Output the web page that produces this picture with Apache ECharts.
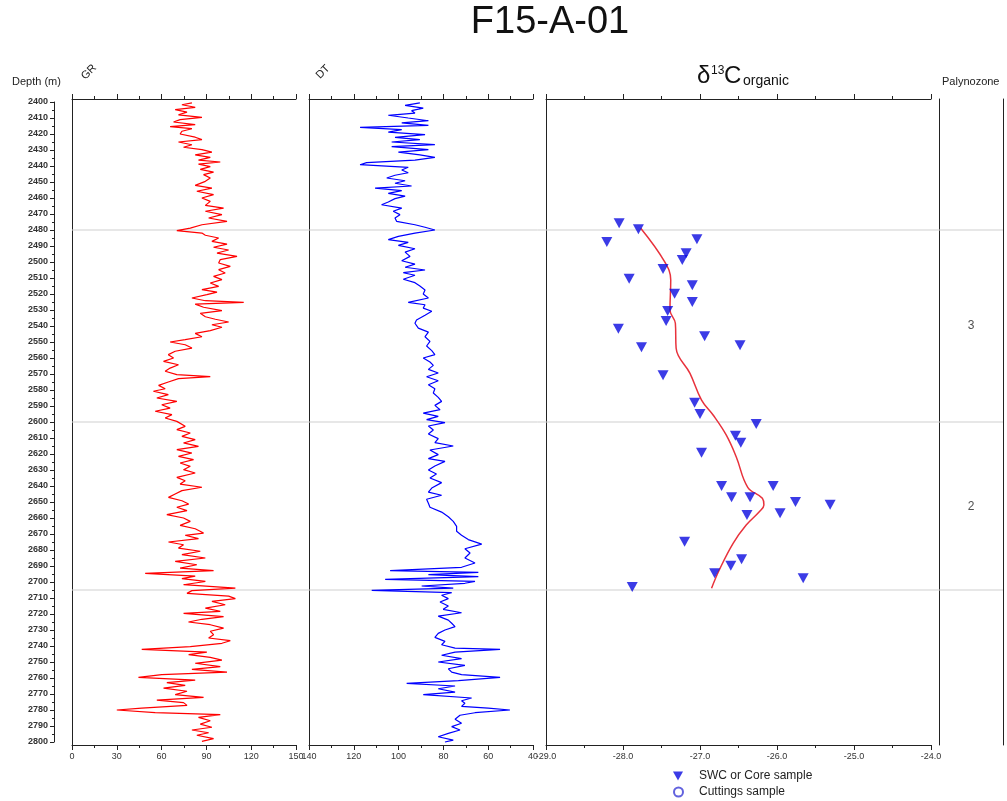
<!DOCTYPE html>
<html>
<head>
<meta charset="utf-8">
<script src="https://cdn.jsdelivr.net/npm/echarts@6/dist/echarts.min.js"></script>
<style>html,body{margin:0;padding:0;background:#fff}#c{width:1007px;height:801px}</style>
</head>
<body>
<div id="c"></div>
<script>
// ---------------- DATA ----------------
const grDepth = [2400.6,2401.7,2403.3,2404.8,2406.3,2408,2409.6,2411,2412.5,2414.2,2415.4,2416.7,2418.3,2420,2422,2423.5,2425,2426.7,2428.3,2429.8,2431.3,2433,2434.6,2436.3,2437.5,2438.8,2440.4,2442.1,2443.8,2445.4,2447.5,2449.6,2452.1,2453.8,2455.8,2457.9,2460,2462.1,2464.6,2466.3,2468.3,2470.4,2472.5,2474.6,2476.7,2478.8,2480.4,2481.9,2483.3,2485,2487.1,2488.8,2490.8,2492.5,2494.4,2496.5,2498.5,
2500.6,2502.7,2504.8,2506.9,2509,2511,2513.1,2515.2,2517.3,2518.8,2520.4,2522.5,2524.2,2525.2,2526.3,2528.3,2530.4,2532.1,2534.2,2535.8,2537.5,2539.2,2540.8,2542.9,2544.6,2546.7,2548.5,2550,2551.7,2553.8,2555.8,2557.9,2560,2562.1,2564.2,2566.3,2568.3,2570.4,2571.7,2572.9,2575,2577.1,2579.2,2580.8,2582.9,2585,2587.1,2589.2,2591.3,2593.3,2595.4,2597.5,2599.6,
2600.6,2602.7,2604.8,2606.9,2609,2611,2613.1,2615.2,2617.3,2619.4,2621.5,2623.5,2625.6,2627.7,2629.8,2631.9,2634.6,2636.7,2638.8,2640.8,2642.9,2645,2647.1,2649.2,2651.3,2653.3,2655.4,2657.9,2660,2662.1,2664.6,2666.7,2669.4,2670.8,2672.9,2675,2676.7,2678.8,2680.8,2682.9,2685,2687.1,2689.2,2691.3,2692.9,2694.6,2696.3,2697.9,2699.6,
2700,2701.7,2703.8,2705.4,2707.1,2708.8,2710.4,2712.1,2714.2,2716.3,2718.3,2719.6,2721.7,2723.3,2725,2726.7,2728.8,2730.8,2732.9,2735,2736.7,2738.3,2740.4,2742.1,2743.8,2745.4,2747.1,2748.8,2750.8,2752.9,2754.6,2756.3,2757.9,2759.6,2761.3,2762.9,2764.6,2766.3,2768.3,2770.4,2772.1,2773.8,2775.4,2777.1,2778.8,2780,2781.7,2782.9,2784.6,2786.7,2788.8,2790.8,2792.5,2794.2,2795.8,2797.9,2799.6];
const grValue = [80.3,73.6,82.5,69.1,77,71.3,87,72.4,68,82.5,65.7,80.3,73.6,72.4,82.5,87,71.3,80.3,74.7,87,93.7,82.5,92.6,84.7,99.3,84.7,92.6,85.9,94.8,88.1,92.6,89.3,82.5,93.7,83.6,94.8,87,92.6,89.3,101.5,89.3,100.4,91.5,103.8,87,79.2,70.2,87,89.3,98.2,93.7,103.8,94.8,104.9,97.1,110.5,99.3,
98.2,106,98.2,102.6,94.8,100.4,92.6,98.2,87,97.1,90.3,80.3,89.3,115,82.5,88.1,100.4,85.9,89.3,96,104.9,93.7,100.4,92.6,82.5,87,75.8,65.7,75.8,80.3,69.1,64.5,68,61.3,71.3,65.7,62.4,70.2,92.6,71.3,64.5,58,62.4,54.5,64.5,56.8,70.2,60.1,65.7,55.7,66.9,62.4,70.2,
71.3,75.8,70.2,79.2,73.6,82.5,74.7,84.7,70.2,80.3,71.3,81.4,72.4,79.2,74.7,82.5,70.2,75.8,72.4,87,73.6,69.1,64.6,73.6,78.1,70.2,77,63.5,74.7,79.2,72.4,82.5,88.1,75.8,84.7,64.6,74.7,71.3,85.9,73.6,89.3,69.1,83.6,72.4,94.8,49,82.5,73.6,89.3,
87,74.7,109.4,80.3,77,104.9,109.4,93.7,102.6,89.3,99.3,74.7,101.5,87,78,92.6,101.5,92.6,94.8,91.5,106,100.4,79.2,46.7,90.3,78.1,92.6,100.4,82.5,99.3,80.3,103.8,60.1,44.5,82.5,63.5,75.8,61.3,77,69.1,88.1,56.8,74.7,77,46.7,30,55.7,99.3,84.7,92.6,85.9,93.7,80.3,91.5,83.6,94.8,87];

const dtDepth = [2400.6,2402.1,2403.8,2405.4,2406.9,2408.3,2410,2411.7,2413.1,2414.6,2415.8,2417.3,2418.8,2420.4,2422.1,2423.5,2425,2426.7,2427.9,2429.8,2431.3,2433,2434.6,2436.3,2437.9,2439.2,2440.8,2442.5,2444.2,2445.8,2447.5,2449.2,2450.8,2452.5,2453.8,2455.4,2457.1,2458.8,2460.4,2462.5,2464.2,2466.3,2468.3,2470.4,2472.5,2474.6,2476.7,2478.3,2480,2481.9,2484,2486,2487.7,2489.6,2491.7,2493.8,2496.5,
2499.2,2501.3,2503.3,2505,2506.7,2508.3,2510.8,2512.9,2515,2517.5,2520,2522.5,2525.2,2526.7,2528.8,2530.8,2533.3,2536.3,2538.3,2541.3,2543.8,2546.7,2549.6,2552.5,2555.4,2557.9,2560,2562.5,2564.6,2567.1,2569.4,2571.7,2574.2,2576.7,2579.2,2581.9,2584.6,2587.1,2589.6,2592.3,2594.4,2596.5,2598.5,
2600.4,2602.5,2605,2607.5,2610.4,2612.9,2615,2617.5,2620.4,2622.9,2624.6,2627.5,2630,2632.5,2635,2637.9,2641.3,2643.8,2645.8,2648.3,2650.8,2653.3,2656.3,2659.2,2662.1,2665.2,2668.3,2670.8,2673.5,2676.3,2679.2,2681.9,2685,2688.1,2690.8,2692.9,2694,2695.4,2696.7,2698.3,2699.6,
2700.8,2702.5,2703.8,2705.2,2706.7,2708.3,2710.4,2712.5,2715,2717.1,2719.2,2721.3,2723.8,2725.8,2727.9,2730,2732.1,2734.6,2737.1,2739.2,2741.3,2742.1,2743.8,2745.8,2747.9,2750,2752.1,2754.2,2756.3,2757.9,2759.6,2761.7,2763.3,2765,2766.7,2768.8,2770.4,2772.5,2774.2,2775.8,2777.7,2778.8,2780,2781.7,2783.3,2785.8,2788.3,2790.4,2792.5,2794.6,2796.7,2798.8,2800];
const dtValue = [90.5,97.1,89,94.2,92.7,104.6,95.7,86.7,98.6,86.7,117.2,98.6,104.6,88.2,101.6,90.5,103.1,83.8,103.1,86.7,100.1,90.5,83.8,92.7,114.3,117.2,95.7,98.6,95.7,101.6,105.3,97.1,101.6,94.2,110.5,98.6,104.6,97.1,101.6,104.6,107.6,98.6,102.4,99.4,101.6,100.9,92.7,88.2,83.8,92.7,100.1,104.6,95.7,100.1,92.7,97.1,94.9,
98.6,92.7,97.1,88.2,97.9,92.7,97.9,92.7,90.5,88.2,89,86.7,95.7,88.2,89,85.2,88.2,92,92.7,91.2,86.7,88.2,86,87.5,85.2,83.8,89,86,84.5,86.7,82.3,87.5,82.3,86.7,83.8,84.5,82.3,80.8,83.8,81.5,89,82.3,87.5,
79.3,86.7,84.5,86.7,82.3,83.8,75.6,86,82.3,86.7,79.3,83.8,86.7,83.1,86,80.8,85.2,86.7,80.8,87.5,86.7,86,80.8,77.8,75.6,74.1,74.1,71.9,68.9,62.9,70.4,68.1,70.4,65.9,71.9,103.8,64.4,86.7,64.4,106,65.9,
70.4,89.7,75.6,112,76.3,80.8,77.8,81.5,77.8,80.1,71.9,82.3,77.8,76.3,74.8,79.3,82.3,83.8,79.3,80.8,74.8,54.7,74.8,80.8,71.9,82.3,70.4,77.8,76.3,71.9,54.7,73.3,96.4,74.8,82.3,74.8,89,67.4,71.9,70.4,71.9,60,50.3,65.9,72.6,74.8,71.9,76.3,72.6,77.8,82.3,75.6,79.3];

// δ13C organic, SWC / core samples
const swcDepth = [2475.8,2479.6,2487.5,2485.8,2494.6,2498.8,2504.4,2510.4,2514.6,2519.8,2525,2530.6,2536.9,2541.7,2546.4,2552.1,2553.3,2570.8,2587.9,2595,2601.3,2608.6,2612.9,2619.2,2640,2640,2647.1,2647.1,2650,2651.7,2658.1,2657.1,2674.8,2685.8,2689.8,2694.6,2697.7,2703.1];
const swcValue = [-28.05,-27.80,-28.21,-27.04,-27.18,-27.23,-27.48,-27.92,-27.10,-27.33,-27.10,-27.42,-27.44,-28.06,-26.94,-26.48,-27.76,-27.48,-27.07,-27.00,-26.27,-26.54,-26.47,-26.98,-26.72,-26.05,-26.59,-26.35,-25.76,-25.31,-26.39,-25.96,-27.20,-26.46,-26.60,-26.81,-25.66,-27.88];
// trend line
const trendDepth = [2478.9,2499.8,2511.3,2530,2538.3,2553.9,2569.6,2586.3,2595.6,2608.1,2621.7,2640.8,2647.7,2651.9,2656.1,2664.4,2675.8,2692.5,2703.9];
const trendValue = [-27.77,-27.46,-27.38,-27.39,-27.32,-27.31,-27.13,-26.98,-26.83,-26.66,-26.53,-26.38,-26.19,-26.17,-26.23,-26.40,-26.57,-26.75,-26.85];

const zoneBoundaries = [2480, 2600, 2705];
const zoneLabels = ['3', '2'];
const zoneLabelDepth = [2540, 2653];

const grTicks = {min: 0, max: 150, interval: 30};
const dtTicks = {min: 40, max: 140, interval: 20};
const cTicks = {min: -29, max: -24, interval: 1};
const depthTicks = {min: 2400, max: 2800, interval: 10};

// ---------------- CHART ----------------
(function () {
const zip = (a, b) => a.map((v, i) => [v, b[i]]);
const FONT = 'Liberation Sans';
const dTop = 102, dH = 640;          // depth 2400..2800 span
const pad = 3;                        // panel frame extends a little beyond
const pxPerM = dH / (depthTicks.max - depthTicks.min);
const fMin = depthTicks.min - pad / pxPerM, fMax = depthTicks.max + pad / pxPerM;
const lblStyle = {fontSize: 9, color: '#333', fontFamily: FONT};

function xAxes(grid, t, fmt, inverse) {
  const base = {
    type: 'value', gridIndex: grid, min: t.min, max: t.max, interval: t.interval, inverse: !!inverse,
    axisLine: {show: true, onZero: false, lineStyle: {color: '#222', width: 1}},
    axisTick: {show: true, length: 5, lineStyle: {color: '#222'}},
    minorTick: {show: true, splitNumber: 2, length: 3, lineStyle: {color: '#222'}},
    splitLine: {show: false}, minorSplitLine: {show: false}
  };
  return [
    Object.assign({}, base, {position: 'bottom', axisLabel: Object.assign({show: true, margin: 7, formatter: fmt}, lblStyle)}),
    Object.assign({}, base, {position: 'top', axisLabel: {show: false}})
  ];
}
function frameY(grid, pos) {
  return {type: 'value', gridIndex: grid, position: pos || 'left', inverse: true,
    min: fMin, max: fMax,
    axisLine: {show: true, onZero: false, lineStyle: {color: '#222', width: 1}},
    axisTick: {show: false}, axisLabel: {show: false}, splitLine: {show: false}};
}
const fTop = dTop - pad, fH = dH + 2 * pad;
const legendText = {fontSize: 12, color: '#222', fontFamily: FONT, padding: [0, 0, 0, 11]};

const option = {
  animation: false,
  backgroundColor: '#fff',
  grid: [
    {left: 72, top: fTop, width: 224, height: fH},
    {left: 309, top: fTop, width: 224, height: fH},
    {left: 546, top: fTop, width: 385, height: fH},
    {left: 939, top: fTop, width: 64, height: fH},
    {left: 72, top: dTop, width: 931, height: dH},
    {left: 54, top: dTop, width: 10, height: dH}
  ],
  xAxis: [].concat(
    xAxes(0, grTicks, v => String(v)),
    xAxes(1, dtTicks, v => String(v), true),
    xAxes(2, cTicks, v => v.toFixed(1)),
    [{type: 'value', gridIndex: 3, min: 0, max: 1, show: false},
     {type: 'value', gridIndex: 4, min: 0, max: 1, show: false},
     {type: 'value', gridIndex: 5, min: 0, max: 1, show: false}]
  ),
  yAxis: [
    {type: 'value', gridIndex: 5, position: 'left', inverse: true,
      min: depthTicks.min, max: depthTicks.max, interval: depthTicks.interval,
      axisLine: {show: true, onZero: false, lineStyle: {color: '#222'}},
      axisTick: {show: true, length: 4, lineStyle: {color: '#222'}},
      minorTick: {show: true, splitNumber: 2, length: 2, lineStyle: {color: '#222'}},
      axisLabel: Object.assign({margin: 6, fontWeight: 'bold', formatter: v => String(v)}, lblStyle),
      splitLine: {show: false}},
    frameY(0), frameY(1), frameY(2), frameY(3), frameY(3, 'right'),
    {type: 'value', gridIndex: 4, inverse: true, min: depthTicks.min, max: depthTicks.max, show: false}
  ],
  legend: [
    {left: 673, top: 770, padding: 0, itemWidth: 10, itemHeight: 9, textStyle: legendText,
      data: [{name: 'SWC or Core sample', icon: 'path://M0,0L10,0L5,9Z'}]},
    {left: 673, top: 786, padding: 0, itemWidth: 9, itemHeight: 9, textStyle: legendText,
      data: [{name: 'Cuttings sample', icon: 'circle'}]}
  ],
  series: [
    ...zoneBoundaries.map(d => ({type: 'line', xAxisIndex: 7, yAxisIndex: 6, symbol: 'none', silent: true, z: 1,
      lineStyle: {color: '#cfcfcf', width: 1}, data: [[0, d], [1, d]]})),
    {name: 'GR', type: 'line', xAxisIndex: 0, yAxisIndex: 1, symbol: 'none', z: 3,
      lineStyle: {color: '#ff0000', width: 1.2}, data: zip(grValue, grDepth)},
    {name: 'DT', type: 'line', xAxisIndex: 2, yAxisIndex: 2, symbol: 'none', z: 3,
      lineStyle: {color: '#0000ff', width: 1.2}, data: zip(dtValue, dtDepth)},
    {name: 'trend', type: 'line', xAxisIndex: 4, yAxisIndex: 3, symbol: 'none', smooth: 0.4, z: 3,
      lineStyle: {color: '#e8323c', width: 1.5}, data: zip(trendValue, trendDepth)},
    {name: 'SWC or Core sample', type: 'scatter', xAxisIndex: 4, yAxisIndex: 3, symbol: 'triangle', symbolRotate: 180,
      symbolSize: [11, 10], z: 4, itemStyle: {color: '#0a0ae0'}, data: zip(swcValue, swcDepth)},
    {name: 'Cuttings sample', type: 'scatter', xAxisIndex: 4, yAxisIndex: 3, symbol: 'circle', symbolSize: 8,
      itemStyle: {color: '#ffffff', borderColor: '#3b3bd6', borderWidth: 1.5}, data: []},
    {name: 'zones', type: 'scatter', xAxisIndex: 6, yAxisIndex: 4, symbolSize: 0, silent: true,
      label: {show: true, position: 'inside', formatter: p => p.data[2], fontSize: 12, color: '#222', fontFamily: FONT},
      data: zoneLabels.map((l, i) => [0.5, zoneLabelDepth[i], l])}
  ],
  graphic: [
    {type: 'text', x: 550, y: 23, style: {text: 'F15-A-01', font: '38px "Liberation Sans"', fill: '#111', textAlign: 'center', textVerticalAlign: 'middle'}},
    {type: 'text', x: 12, y: 82, style: {text: 'Depth (m)', font: '11px "Liberation Sans"', fill: '#222', textVerticalAlign: 'middle'}},
    {type: 'text', x: 89, y: 72, rotation: Math.PI / 4, style: {text: 'GR', font: '11px "Liberation Sans"', fill: '#222', textAlign: 'center', textVerticalAlign: 'middle'}},
    {type: 'text', x: 323, y: 72, rotation: Math.PI / 4, style: {text: 'DT', font: '11px "Liberation Sans"', fill: '#222', textAlign: 'center', textVerticalAlign: 'middle'}},
    {type: 'text', x: 697, y: 76, style: {text: 'δ', font: '24px "Liberation Sans"', fill: '#111', textVerticalAlign: 'middle'}},
    {type: 'text', x: 711, y: 71, style: {text: '13', font: '12px "Liberation Sans"', fill: '#111', textVerticalAlign: 'middle'}},
    {type: 'text', x: 724, y: 76, style: {text: 'C', font: '24px "Liberation Sans"', fill: '#111', textVerticalAlign: 'middle'}},
    {type: 'text', x: 743, y: 81, style: {text: 'organic', font: '14px "Liberation Sans"', fill: '#111', textVerticalAlign: 'middle'}},
    {type: 'text', x: 942, y: 82, style: {text: 'Palynozone', font: '11px "Liberation Sans"', fill: '#222', textVerticalAlign: 'middle'}}
  ]
};
const chart = echarts.init(document.getElementById('c'), null, {renderer: 'canvas'});
chart.setOption(option);
})();
</script>
</body>
</html>
